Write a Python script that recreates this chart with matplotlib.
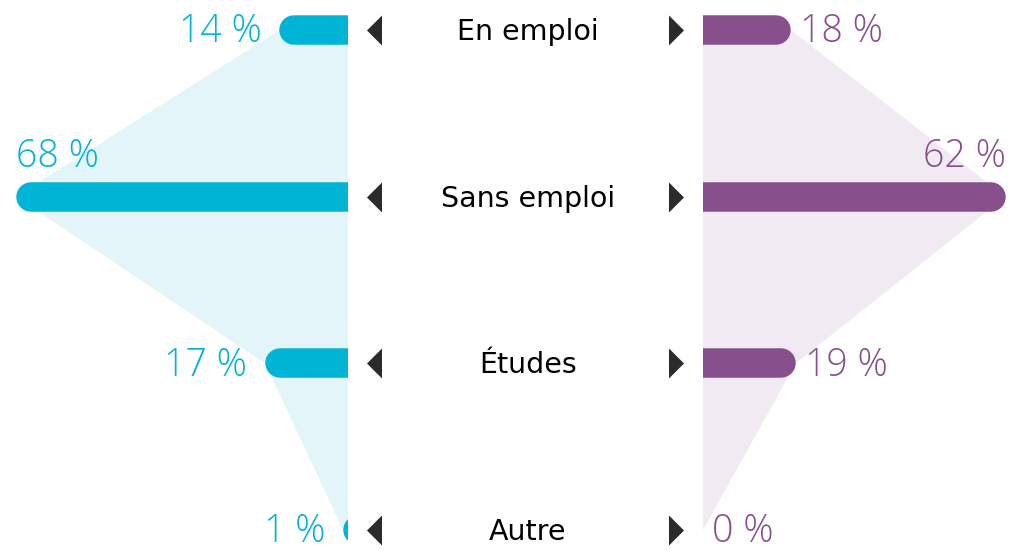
import numpy as np
import matplotlib
matplotlib.use("Agg")
import matplotlib.pyplot as plt

# data
categories = ["En emploi", "Sans emploi", "Études", "Autre"]
left_values = [14, 68, 17, 1]
right_values = [18, 62, 19, 0]

cyan = "#00B4D6"
cyan_light = "#E3F5F9"
purple = "#87508D"
purple_light = "#F2EAF2"
dark = "#2B2B2B"

W, H = 1009, 550
fig = plt.figure(figsize=(W / 100, H / 100), dpi=100)

px_per_pct = 4.88
row_px = 166.67
top_px = 30
ylim = ((H - top_px) / row_px, -top_px / row_px)
bar_px = 29.5
r = bar_px / 2 / px_per_pct  # rayon de l'arrondi en %
lw = bar_px * 72 / 100
dy = 2 / row_px  # petit décalage vertical du texte

x_left, x_mid, x_right = 348, 348, 703

ax_l = fig.add_axes([0, 0, x_left / W, 1])
ax_l.set_xlim(x_left / px_per_pct, 0)
ax_m = fig.add_axes([x_mid / W, 0, (x_right - x_mid) / W, 1])
ax_m.set_xlim(0, x_right - x_mid)
ax_r = fig.add_axes([x_right / W, 0, (W - x_right) / W, 1])
ax_r.set_xlim(0, (W - x_right) / px_per_pct)
for ax in (ax_l, ax_m, ax_r):
    ax.set_ylim(*ylim)
    ax.axis("off")

idx = np.arange(len(categories))
font = ["Open Sans", "DejaVu Sans"]


def draw_side(ax, values, col, col_light, left):
    vals = np.array(values, dtype=float)
    # zone ombrée
    xs = np.r_[vals, 0, 0]
    ys = np.r_[idx, idx[-1], idx[0]]
    ax.fill(xs, ys, color=col_light, lw=0, zorder=1)
    big = int(np.argmax(vals))
    for i, v in zip(idx, vals):
        ax.plot([-10, v - r], [i, i], color=col, lw=lw,
                solid_capstyle="round", zorder=2)
        if i == big:
            ax.text(v, i - 0.25 + dy, f"{v:.0f} %", color=col, fontsize=27,
                    family=font, fontweight="light",
                    ha="left" if left else "right", va="center")
        else:
            off = 3.6 if left else 1.8
            ax.text(v + off, i + dy, f"{v:.0f} %", color=col, fontsize=27,
                    family=font, fontweight="light",
                    ha="right" if left else "left", va="center")


draw_side(ax_l, left_values, cyan, cyan_light, True)
draw_side(ax_r, right_values, purple, purple_light, False)

tri_l = [(-0.5, 0), (0.5, -1), (0.5, 1)]
tri_r = [(0.5, 0), (-0.5, -1), (-0.5, 1)]
ax_m.plot(np.full(len(idx), 26), idx, ls="none", marker=tri_l,
          markersize=21.6, color=dark, markeredgewidth=0)
ax_m.plot(np.full(len(idx), 327.5), idx, ls="none", marker=tri_r,
          markersize=21.6, color=dark, markeredgewidth=0)
for i, c in zip(idx, categories):
    ax_m.text(180, i + dy, c, fontsize=20.5, family=["DejaVu Sans"],
              ha="center", va="center", color="black")

fig.savefig("out.png", dpi=100)
